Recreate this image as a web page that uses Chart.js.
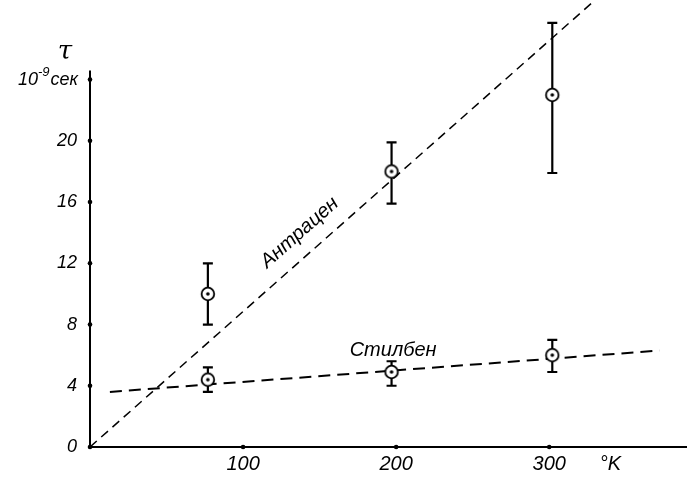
<!DOCTYPE html>
<html>
<head>
<meta charset="utf-8">
<script src="https://cdn.jsdelivr.net/npm/chart.js@4/dist/chart.umd.min.js"></script>
<style>
html,body{margin:0;padding:0;background:#fff;}
#wrap{width:687px;height:479px;}
</style>
</head>
<body>
<div id="wrap"><canvas id="c" width="687" height="479"></canvas></div>
<script>
// ---- data ----
const temperatures = [77, 197, 302];            // °K
const anthraceneTau = [10.0, 18.0, 23.0];      // 10^-9 s
const anthraceneLow = [8.0, 15.9, 17.9];
const anthraceneHigh = [12.0, 19.9, 27.7];
const stilbeneTau = [4.4, 4.9, 6.0];
const stilbeneLow = [3.6, 4.0, 4.9];
const stilbeneHigh = [5.2, 5.6, 7.0];
const anthraceneFitX = [0, 330];
const anthraceneFitY = [0, 29.2];
const stilbeneFitX = [13, 372];
const stilbeneFitY = [3.6, 6.3];
const yTickValues = [0, 4, 8, 12, 16, 20, 24];
const yTickLabels = ['0', '4', '8', '12', '16', '20', ''];
const xTickValues = [100, 200, 300];
const xTickLabels = ['100', '200', '300'];
const xUnitValue = 340;
const xUnitLabel = '°K';
const yUnitLabel = ['10', '-9', 'сек'];
const yAxisSymbol = 'τ';
const seriesNames = ['Антрацен', 'Стилбен'];
const anthraceneLabelAt = {x: 137, y: 14.0};
const stilbeneLabelAt = {x: 198, y: 6.3};

const FONT = '"Liberation Sans Narrow", "Liberation Sans", Arial, sans-serif';

function pts(xs, ys){ return xs.map((x,i)=>({x:x, y:ys[i]})); }

// marker: circle with a dot
const mk = document.createElement('canvas');
mk.width = 18; mk.height = 18;
(function(){
  const g = mk.getContext('2d');
  g.beginPath(); g.arc(9,9,6.3,0,Math.PI*2);
  g.fillStyle='#fff'; g.fill();
  g.lineWidth=1.8; g.strokeStyle='#000'; g.stroke();
  g.beginPath(); g.arc(9,9,1.8,0,Math.PI*2); g.fillStyle='#000'; g.fill();
})();

const errorBars = {
  id:'errorBars',
  beforeDatasetsDraw(chart){
    const ctx = chart.ctx, xs = chart.scales.x, ys = chart.scales.y;
    const sets = [[anthraceneLow, anthraceneHigh],[stilbeneLow, stilbeneHigh]];
    ctx.save();
    ctx.strokeStyle='#000'; ctx.lineWidth=2.2; ctx.setLineDash([]);
    sets.forEach(([lo,hi])=>{
      temperatures.forEach((t,i)=>{
        const px = xs.getPixelForValue(t);
        const y1 = ys.getPixelForValue(lo[i]), y2 = ys.getPixelForValue(hi[i]);
        ctx.beginPath(); ctx.moveTo(px,y1); ctx.lineTo(px,y2); ctx.stroke();
        ctx.beginPath(); ctx.moveTo(px-5,y1); ctx.lineTo(px+5,y1);
        ctx.moveTo(px-5,y2); ctx.lineTo(px+5,y2); ctx.stroke();
      });
    });
    ctx.restore();
  }
};

const decor = {
  id:'decor',
  afterDraw(chart){
    const ctx = chart.ctx, xs = chart.scales.x, ys = chart.scales.y;
    ctx.save();
    ctx.fillStyle='#000'; ctx.strokeStyle='#000';
    // y axis line
    const ax = xs.getPixelForValue(0);
    ctx.lineWidth=2;
    ctx.beginPath(); ctx.moveTo(ax, ys.getPixelForValue(0)); ctx.lineTo(ax, ys.getPixelForValue(24.6)); ctx.stroke();
    // tick dots
    yTickValues.forEach(v=>{ ctx.beginPath(); ctx.arc(ax, ys.getPixelForValue(v), 2.3, 0, Math.PI*2); ctx.fill(); });
    xTickValues.forEach(v=>{ ctx.beginPath(); ctx.arc(xs.getPixelForValue(v), ys.getPixelForValue(0), 2.3, 0, Math.PI*2); ctx.fill(); });
    // y unit label at top tick
    const yTop = ys.getPixelForValue(24);
    const right = ys.right - 12;
    ctx.textBaseline='middle';
    ctx.font = 'italic 18px ' + FONT;
    const w3 = ctx.measureText(yUnitLabel[2]).width;
    const w1 = ctx.measureText(yUnitLabel[0]).width;
    ctx.font = 'italic 13px ' + FONT;
    const w2 = ctx.measureText(yUnitLabel[1]).width;
    let x0 = right - w3 - w2 - w1 - 1;
    ctx.font = 'italic 18px ' + FONT;
    ctx.textAlign='left';
    ctx.fillText(yUnitLabel[0], x0, yTop);
    ctx.font = 'italic 13px ' + FONT;
    ctx.fillText(yUnitLabel[1], x0 + w1, yTop - 7);
    ctx.font = 'italic 18px ' + FONT;
    ctx.fillText(yUnitLabel[2], x0 + w1 + w2 + 1, yTop);
    // tau symbol
    ctx.font = 'italic 26px "DejaVu Serif", serif';
    ctx.textAlign='center';
    ctx.fillText(yAxisSymbol, ys.right - 25, ys.getPixelForValue(25.8));
    // series labels
    const ang = Math.atan2(ys.getPixelForValue(anthraceneFitY[1]) - ys.getPixelForValue(anthraceneFitY[0]),
                           xs.getPixelForValue(anthraceneFitX[1]) - xs.getPixelForValue(anthraceneFitX[0]));
    ctx.font = 'italic 20px ' + FONT;
    ctx.save();
    ctx.translate(xs.getPixelForValue(anthraceneLabelAt.x), ys.getPixelForValue(anthraceneLabelAt.y));
    ctx.rotate(ang);
    ctx.fillText(seriesNames[0], 0, 0);
    ctx.restore();
    ctx.fillText(seriesNames[1], xs.getPixelForValue(stilbeneLabelAt.x), ys.getPixelForValue(stilbeneLabelAt.y));
    ctx.restore();
  }
};

function noPad(s){ s.paddingTop = 0; s.paddingBottom = 0; s.paddingLeft = 0; s.paddingRight = 0; }

new Chart(document.getElementById('c'), {
  type:'scatter',
  data:{
    datasets:[
      {label:seriesNames[0], data:pts(temperatures, anthraceneTau), pointStyle:mk, pointRadius:9, order:1},
      {label:seriesNames[1], data:pts(temperatures, stilbeneTau), pointStyle:mk, pointRadius:9, order:1},
      {label:'fitA', type:'line', data:pts(anthraceneFitX, anthraceneFitY), showLine:true, borderColor:'#000',
       borderWidth:1.5, borderDash:[9,6], pointRadius:0, fill:false, order:3},
      {label:'fitS', type:'line', data:pts(stilbeneFitX, stilbeneFitY), showLine:true, borderColor:'#000',
       borderWidth:2, borderDash:[12,7], pointRadius:0, fill:false, order:3}
    ]
  },
  options:{
    responsive:false, animation:false,
    layout:{padding:0, autoPadding:false},
    plugins:{legend:{display:false}, tooltip:{enabled:false}},
    scales:{
      x:{type:'linear', min:0, max:390,
         afterBuildTicks:(s)=>{ s.ticks = xTickValues.concat([xUnitValue]).map(v=>({value:v})); },
         afterFit:(s)=>{ s.height = 32; noPad(s); },
         grid:{display:false, drawTicks:false},
         border:{display:true, color:'#000', width:2},
         ticks:{color:'#000', padding:5, maxRotation:0, autoSkip:false,
           font:{family:FONT, size:20, style:'italic'},
           callback:(v)=>{ const i = xTickValues.indexOf(v); return i>=0 ? xTickLabels[i] : (v===xUnitValue ? xUnitLabel : ''); }}
      },
      y:{type:'linear', min:0, max:29.2,
         afterBuildTicks:(s)=>{ s.ticks = yTickValues.map(v=>({value:v})); },
         afterFit:(s)=>{ s.width = 90; noPad(s); },
         grid:{display:false, drawTicks:false},
         border:{display:false},
         ticks:{color:'#000', padding:13, autoSkip:false,
           font:{family:FONT, size:18, style:'italic'},
           callback:(v)=>{ const i = yTickValues.indexOf(v); return i>=0 ? yTickLabels[i] : ''; }}
      }
    }
  },
  plugins:[errorBars, decor]
});
</script>
</body>
</html>
